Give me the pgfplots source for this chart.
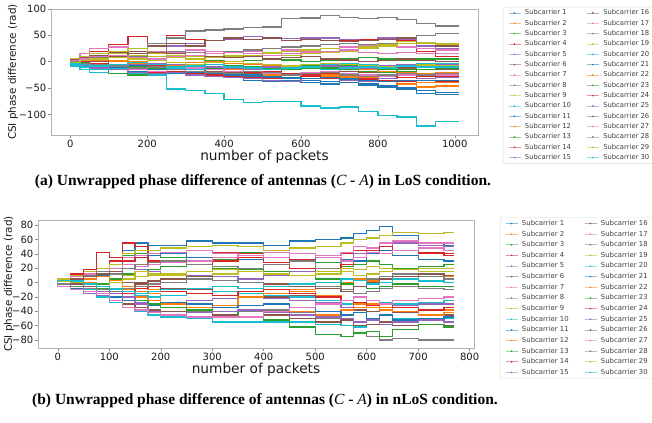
\documentclass[border=0pt]{standalone}
\usepackage{fontspec}
\setmainfont{DejaVu Sans}
\newfontfamily\capfont{Liberation Serif}
\usepackage{pgfplots}
\pgfplotsset{compat=1.18}
\definecolor{c0}{HTML}{1F77B4}
\definecolor{c1}{HTML}{FF7F0E}
\definecolor{c2}{HTML}{2CA02C}
\definecolor{c3}{HTML}{D62728}
\definecolor{c4}{HTML}{9467BD}
\definecolor{c5}{HTML}{8C564B}
\definecolor{c6}{HTML}{E377C2}
\definecolor{c7}{HTML}{7F7F7F}
\definecolor{c8}{HTML}{BCBD22}
\definecolor{c9}{HTML}{17BECF}
\pgfplotsset{
  d/.style={forget plot, const plot mark right, line width=1.3bp},
  csi/.style={
    scale only axis,
    axis line style={draw=black!30},
    tick style={draw=black!45, line width=0.5bp},
    major tick length=3bp,
    tick align=outside,
    xtick pos=left, ytick pos=left,
    ticklabel style={font=\fontsize{10bp}{12bp}\selectfont, text=black!90},
    xticklabel style={inner sep=1.5bp},
    yticklabel style={inner sep=1.5bp},
    /pgf/number format/assume math mode=true,
    xlabel style={font=\fontsize{13.7bp}{16bp}\selectfont, text=black!90, at={(axis description cs:0.5,0)}, anchor=north, yshift=-15bp, inner sep=0pt},
    ylabel style={font=\fontsize{10.4bp}{12bp}\selectfont, text=black!90, anchor=center, inner sep=0pt},
    legend cell align=left,
    legend columns=2,
    legend image code/.code={\draw[##1,line width=0.8bp,opacity=0.5] (0bp,0bp) -- (12bp,0bp); \fill[##1] (6bp,0bp) circle (0.6bp);},
  },
}
\newcommand{\sclegend}{%
\addlegendimage{c0}\addlegendentry{Subcarrier 1}
\addlegendimage{c5}\addlegendentry{Subcarrier 16}
\addlegendimage{c1}\addlegendentry{Subcarrier 2}
\addlegendimage{c6}\addlegendentry{Subcarrier 17}
\addlegendimage{c2}\addlegendentry{Subcarrier 3}
\addlegendimage{c7}\addlegendentry{Subcarrier 18}
\addlegendimage{c3}\addlegendentry{Subcarrier 4}
\addlegendimage{c8}\addlegendentry{Subcarrier 19}
\addlegendimage{c4}\addlegendentry{Subcarrier 5}
\addlegendimage{c9}\addlegendentry{Subcarrier 20}
\addlegendimage{c5}\addlegendentry{Subcarrier 6}
\addlegendimage{c0}\addlegendentry{Subcarrier 21}
\addlegendimage{c6}\addlegendentry{Subcarrier 7}
\addlegendimage{c1}\addlegendentry{Subcarrier 22}
\addlegendimage{c7}\addlegendentry{Subcarrier 8}
\addlegendimage{c2}\addlegendentry{Subcarrier 23}
\addlegendimage{c8}\addlegendentry{Subcarrier 9}
\addlegendimage{c3}\addlegendentry{Subcarrier 24}
\addlegendimage{c9}\addlegendentry{Subcarrier 10}
\addlegendimage{c4}\addlegendentry{Subcarrier 25}
\addlegendimage{c0}\addlegendentry{Subcarrier 11}
\addlegendimage{c5}\addlegendentry{Subcarrier 26}
\addlegendimage{c1}\addlegendentry{Subcarrier 12}
\addlegendimage{c6}\addlegendentry{Subcarrier 27}
\addlegendimage{c2}\addlegendentry{Subcarrier 13}
\addlegendimage{c7}\addlegendentry{Subcarrier 28}
\addlegendimage{c3}\addlegendentry{Subcarrier 14}
\addlegendimage{c8}\addlegendentry{Subcarrier 29}
\addlegendimage{c4}\addlegendentry{Subcarrier 15}
\addlegendimage{c9}\addlegendentry{Subcarrier 30}
}
\begin{document}
\begin{tikzpicture}
\path[use as bounding box] (0bp,0bp) rectangle (652bp,423bp);
% ---------------- (a) LoS ----------------
\begin{axis}[csi,
  at={(51bp,288bp)}, anchor=south west, width=427bp, height=126bp,
  xmin=-50.5, xmax=1060.5, ymin=-139, ymax=100,
  xtick={0,200,400,600,800,1000}, xticklabels={0,200,400,600,800,1000},
  ytick={-100,-50,0,50,100}, yticklabels={−100,−50,0,50,100},
  xlabel={number of packets}, ylabel={CSI phase difference (rad)},
  ylabel style={at={(axis description cs:-0.089,0.5)}},
  legend style={at={(1.0585,1.016)}, anchor=north west, draw=black!15, rounded corners=1.5bp,
    font=\fontsize{6.8bp}{8bp}\selectfont, text=black!75, inner xsep=5bp, inner ysep=2bp,
    nodes={inner sep=0.5bp, text height=5.2bp, text depth=1.4bp},
    row sep=2.73bp, column sep=3.5bp,
    /tikz/every even column/.append style={column sep=15bp}},
]
\addplot[d,c0] coordinates {(0,0)(25,-3)(50,-8)(100,-12)(150,-15)(200,-18)(250,-20)(300,-22)(350,-25)(400,-28)(450,-30)(500,-35)(550,-38)(600,-36)(650,-40)(700,-42)(750,-40)(800,-45)(850,-48)(900,-50)(950,-55)(1010,-58)};
\addplot[d,c1] coordinates {(0,0)(25,2)(50,5)(100,3)(150,0)(200,-3)(250,-5)(300,-8)(350,-10)(400,-12)(450,-15)(500,-18)(550,-20)(600,-22)(650,-25)(700,-28)(750,-30)(800,-32)(850,-35)(900,-38)(950,-40)(1010,-40)};
\addplot[d,c2] coordinates {(0,0)(25,3)(50,5)(100,8)(150,12)(200,15)(250,10)(300,8)(350,5)(400,2)(450,0)(500,2)(550,5)(600,3)(650,0)(700,2)(750,5)(800,8)(850,5)(900,3)(950,5)(1010,5)};
\addplot[d,c3] coordinates {(0,0)(25,5)(50,10)(100,20)(150,32)(200,48)(250,35)(300,50)(350,42)(400,40)(450,45)(500,48)(550,46)(600,40)(650,42)(700,45)(750,40)(800,42)(850,45)(900,40)(950,20)(1010,10)};
\addplot[d,c4] coordinates {(0,0)(25,3)(50,5)(100,10)(150,15)(200,12)(250,20)(300,30)(350,35)(400,40)(450,42)(500,48)(550,45)(600,44)(650,45)(700,45)(750,42)(800,40)(850,45)(900,42)(950,30)(1010,25)};
\addplot[d,c5] coordinates {(0,0)(25,5)(50,10)(100,15)(150,18)(200,20)(250,30)(300,35)(350,30)(400,40)(450,45)(500,42)(550,45)(600,40)(650,42)(700,40)(750,38)(800,40)(850,42)(900,45)(950,35)(1010,30)};
\addplot[d,c6] coordinates {(0,0)(25,5)(50,15)(100,25)(150,28)(200,25)(250,20)(300,18)(350,22)(400,20)(450,18)(500,20)(550,25)(600,22)(650,20)(700,25)(750,28)(800,30)(850,32)(900,28)(950,25)(1010,22)};
\addplot[d,c7] coordinates {(0,0)(25,2)(50,5)(100,8)(150,10)(200,15)(250,35)(300,45)(350,58)(400,60)(450,62)(500,65)(550,66)(600,82)(650,83)(700,87)(750,84)(800,82)(850,84)(900,80)(950,72)(1010,68)};
\addplot[d,c8] coordinates {(0,0)(25,3)(50,5)(100,10)(150,15)(200,12)(250,10)(300,8)(350,5)(400,8)(450,10)(500,12)(550,15)(600,12)(650,15)(700,18)(750,20)(800,25)(850,30)(900,38)(950,36)(1010,35)};
\addplot[d,c9] coordinates {(0,0)(25,-8)(50,-15)(100,-20)(150,-22)(200,-22)(250,-25)(300,-52)(350,-55)(400,-60)(450,-72)(500,-78)(550,-76)(600,-75)(650,-84)(700,-88)(750,-86)(800,-95)(850,-102)(900,-105)(950,-122)(1010,-114)};
\addplot[d,c0] coordinates {(0,0)(25,2)(50,-2)(100,-5)(150,-10)(200,-12)(250,-15)(300,-18)(350,-20)(400,-22)(450,-25)(500,-28)(550,-30)(600,-32)(650,-35)(700,-38)(750,-40)(800,-42)(850,-45)(900,-52)(950,-60)(1010,-62)};
\addplot[d,c1] coordinates {(0,0)(25,-2)(50,-5)(100,-8)(150,-12)(200,-10)(250,-8)(300,-12)(350,-15)(400,-18)(450,-20)(500,-22)(550,-25)(600,-22)(650,-20)(700,-25)(750,-28)(800,-30)(850,-35)(900,-42)(950,-48)(1010,-46)};
\addplot[d,c2] coordinates {(0,0)(25,-3)(50,-8)(100,-15)(150,-22)(200,-25)(250,-20)(300,-18)(350,-15)(400,-12)(450,-10)(500,-12)(550,-15)(600,-10)(650,-8)(700,-12)(750,-15)(800,-18)(850,-20)(900,-15)(950,-22)(1010,-20)};
\addplot[d,c3] coordinates {(0,0)(25,-2)(50,-5)(100,-10)(150,-12)(200,-15)(250,-20)(300,-18)(350,-22)(400,-25)(450,-28)(500,-30)(550,-32)(600,-30)(650,-28)(700,-32)(750,-35)(800,-33)(850,-35)(900,-38)(950,-36)(1010,-38)};
\addplot[d,c4] coordinates {(0,0)(25,-3)(50,-8)(100,-12)(150,-15)(200,-20)(250,-22)(300,-20)(350,-25)(400,-28)(450,-30)(500,-32)(550,-35)(600,-38)(650,-32)(700,-30)(750,-35)(800,-38)(850,-32)(900,-30)(950,-32)(1010,-30)};
\addplot[d,c5] coordinates {(0,0)(25,-1)(50,3)(100,0)(150,-5)(200,-8)(250,-10)(300,-12)(350,-15)(400,-18)(450,-20)(500,-22)(550,-18)(600,-15)(650,-12)(700,-15)(750,-18)(800,-20)(850,-15)(900,-12)(950,-15)(1010,-15)};
\addplot[d,c6] coordinates {(0,0)(25,-2)(50,-5)(100,-8)(150,-12)(200,-15)(250,-18)(300,-15)(350,-12)(400,-15)(450,-18)(500,-20)(550,-22)(600,-25)(650,-20)(700,-18)(750,-22)(800,-25)(850,-28)(900,-25)(950,-28)(1010,-25)};
\addplot[d,c7] coordinates {(0,0)(25,3)(50,8)(100,15)(150,12)(200,10)(250,15)(300,20)(350,18)(400,15)(450,20)(500,22)(550,25)(600,28)(650,30)(700,32)(750,35)(800,32)(850,35)(900,35)(950,50)(1010,54)};
\addplot[d,c8] coordinates {(0,0)(25,5)(50,10)(100,15)(150,20)(200,25)(250,15)(300,12)(350,10)(400,15)(450,12)(500,15)(550,18)(600,20)(650,22)(700,25)(750,22)(800,28)(850,32)(900,35)(950,34)(1010,33)};
\addplot[d,c9] coordinates {(0,0)(25,-5)(50,-10)(100,-15)(150,-12)(200,-10)(250,-8)(300,-12)(350,-15)(400,-10)(450,-8)(500,-5)(550,-8)(600,-12)(650,-10)(700,-5)(750,-3)(800,-5)(850,-8)(900,-5)(950,-3)(1010,-3)};
\addplot[d,c0] coordinates {(0,0)(25,-2)(50,-5)(100,-8)(150,-10)(200,-8)(250,-12)(300,-15)(350,-18)(400,-20)(450,-22)(500,-25)(550,-28)(600,-30)(650,-32)(700,-30)(750,-33)(800,-35)(850,-38)(900,-36)(950,-35)(1010,-35)};
\addplot[d,c1] coordinates {(0,0)(25,1)(50,3)(100,5)(150,2)(200,0)(250,-3)(300,-5)(350,-2)(400,0)(450,-3)(500,-5)(550,-8)(600,-10)(650,-12)(700,-15)(750,-12)(800,-15)(850,-18)(900,-20)(950,-22)(1010,-20)};
\addplot[d,c2] coordinates {(0,0)(25,2)(50,-2)(100,-5)(150,-8)(200,-10)(250,-12)(300,-10)(350,-8)(400,-5)(450,-8)(500,-10)(550,-12)(600,-15)(650,-12)(700,-10)(750,-8)(800,-12)(850,-15)(900,-18)(950,-15)(1010,-12)};
\addplot[d,c3] coordinates {(0,0)(25,2)(50,0)(100,-3)(150,-5)(200,-2)(250,-8)(300,-15)(350,-18)(400,-20)(450,-22)(500,-20)(550,-18)(600,-22)(650,-25)(700,-22)(750,-25)(800,-28)(850,-25)(900,-30)(950,-28)(1010,-28)};
\addplot[d,c4] coordinates {(0,0)(25,-2)(50,-5)(100,-10)(150,-8)(200,-5)(250,-3)(300,-5)(350,-8)(400,-10)(450,-12)(500,-15)(550,-10)(600,-8)(650,-5)(700,-8)(750,-10)(800,-12)(850,-8)(900,-5)(950,-8)(1010,-5)};
\addplot[d,c5] coordinates {(0,0)(25,3)(50,8)(100,12)(150,10)(200,15)(250,18)(300,15)(350,12)(400,10)(450,8)(500,10)(550,5)(600,8)(650,10)(700,5)(750,3)(800,0)(850,2)(900,5)(950,2)(1010,0)};
\addplot[d,c6] coordinates {(0,0)(25,2)(50,5)(100,10)(150,12)(200,8)(250,5)(300,10)(350,12)(400,15)(450,18)(500,15)(550,12)(600,15)(650,18)(700,20)(750,22)(800,18)(850,15)(900,18)(950,15)(1010,15)};
\addplot[d,c7] coordinates {(0,0)(25,1)(50,-3)(100,-5)(150,-8)(200,-12)(250,-10)(300,-15)(350,-18)(400,-20)(450,-22)(500,-18)(550,-20)(600,-25)(650,-22)(700,-20)(750,-25)(800,-28)(850,-25)(900,-22)(950,-25)(1010,-22)};
\addplot[d,c8] coordinates {(0,0)(25,-1)(50,2)(100,5)(150,8)(200,5)(250,2)(300,-2)(350,-5)(400,-2)(450,0)(500,-3)(550,-5)(600,-8)(650,-5)(700,-3)(750,-5)(800,-8)(850,-10)(900,-8)(950,-6)(1010,-8)};
\addplot[d,c9] coordinates {(0,0)(25,-3)(50,-5)(100,-8)(150,-5)(200,-2)(250,-5)(300,-10)(350,-8)(400,-5)(450,-10)(500,-12)(550,-15)(600,-12)(650,-10)(700,-15)(750,-12)(800,-10)(850,-12)(900,-8)(950,-10)(1010,-10)};
\sclegend
\end{axis}
% ---------------- (b) nLoS ----------------
\begin{axis}[csi,
  at={(38bp,75bp)}, anchor=south west, width=436bp, height=128bp,
  xmin=-38.5, xmax=808.5, ymin=-91, ymax=87,
  xtick={0,100,200,300,400,500,600,700,800}, xticklabels={0,100,200,300,400,500,600,700,800},
  ytick={-80,-60,-40,-20,0,20,40,60,80}, yticklabels={−80,−60,−40,−20,0,20,40,60,80},
  xlabel={number of packets}, ylabel={CSI phase difference (rad)},
  ylabel style={at={(axis description cs:-0.0665,0.5)}},
  legend style={at={(1.0596,1.0234)}, anchor=north west, draw=black!15, rounded corners=1.5bp,
    font=\fontsize{6.9bp}{8bp}\selectfont, text=black!75, inner xsep=5bp, inner ysep=2.5bp,
    nodes={inner sep=0.5bp, text height=5.2bp, text depth=1.4bp},
    row sep=3.04bp, column sep=3.5bp,
    /tikz/every even column/.append style={column sep=15bp}},
]
\addplot[d,c0] coordinates {(0,0)(25,5)(50,10)(75,8)(100,15)(125,20)(150,45)(175,55)(200,52)(250,52)(300,58)(350,55)(400,55)(450,52)(500,58)(550,60)(575,62)(600,68)(625,72)(650,78)(700,65)(750,55)(770,52)};
\addplot[d,c1] coordinates {(0,0)(25,3)(50,-2)(75,-5)(100,-8)(125,-15)(150,-10)(175,-12)(200,-15)(250,-30)(300,-35)(350,-32)(400,-20)(450,-15)(500,-10)(550,-5)(575,0)(600,5)(625,2)(650,8)(700,5)(750,8)(770,8)};
\addplot[d,c2] coordinates {(0,0)(25,5)(50,8)(75,12)(100,15)(125,25)(150,38)(175,40)(200,38)(250,35)(300,30)(350,32)(400,42)(450,35)(500,30)(550,28)(575,22)(600,25)(625,30)(650,25)(700,20)(750,22)(770,25)};
\addplot[d,c3] coordinates {(0,0)(25,5)(50,12)(75,15)(100,20)(125,30)(150,55)(175,50)(200,40)(250,42)(300,45)(350,42)(400,40)(450,35)(500,32)(550,38)(575,40)(600,45)(625,42)(650,40)(700,45)(750,42)(770,40)};
\addplot[d,c4] coordinates {(0,0)(25,2)(50,5)(75,8)(100,10)(125,15)(150,20)(175,18)(200,15)(250,12)(300,10)(350,8)(400,5)(450,10)(500,15)(550,20)(575,30)(600,40)(625,45)(650,50)(700,55)(750,52)(770,50)};
\addplot[d,c5] coordinates {(0,0)(25,2)(50,-2)(75,-5)(100,-10)(125,-15)(150,-5)(175,0)(200,-5)(250,-8)(300,-10)(350,-12)(400,-15)(450,-20)(500,-18)(550,-25)(575,-30)(600,-38)(625,-40)(650,-35)(700,-42)(750,-45)(770,-45)};
\addplot[d,c6] coordinates {(0,0)(25,2)(50,5)(75,12)(100,15)(125,25)(150,35)(175,38)(200,40)(250,42)(300,45)(350,40)(400,38)(450,42)(500,40)(550,38)(575,42)(600,50)(625,48)(650,55)(700,58)(750,55)(770,55)};
\addplot[d,c7] coordinates {(0,0)(25,-3)(50,-8)(75,-10)(100,-12)(125,-20)(150,-30)(175,-35)(200,-30)(250,-35)(300,-40)(350,-45)(400,-40)(450,-38)(500,-42)(550,-50)(575,-60)(600,-70)(625,-75)(650,-80)(700,-78)(750,-80)(770,-80)};
\addplot[d,c8] coordinates {(0,0)(25,5)(50,10)(75,15)(100,20)(125,25)(150,40)(175,45)(200,45)(250,48)(300,50)(350,52)(400,50)(450,45)(500,48)(550,50)(575,55)(600,60)(625,62)(650,65)(700,70)(750,68)(770,70)};
\addplot[d,c9] coordinates {(0,0)(25,-5)(50,-10)(75,-15)(100,-20)(125,-28)(150,-30)(175,-40)(200,-45)(250,-48)(300,-50)(350,-55)(400,-55)(450,-55)(500,-55)(550,-58)(575,-60)(600,-62)(625,-58)(650,-55)(700,-50)(750,-52)(770,-50)};
\addplot[d,c0] coordinates {(0,0)(25,-3)(50,0)(75,5)(100,10)(125,15)(150,30)(175,35)(200,38)(250,40)(300,35)(350,30)(400,32)(450,28)(500,30)(550,35)(575,32)(600,30)(625,40)(650,45)(700,38)(750,32)(770,30)};
\addplot[d,c1] coordinates {(0,0)(25,2)(50,5)(75,0)(100,-5)(125,-10)(150,-15)(175,-20)(200,-25)(250,-28)(300,-35)(350,-40)(400,-38)(450,-42)(500,-40)(550,-45)(575,-38)(600,-35)(625,-30)(650,-35)(700,-40)(750,-38)(770,-38)};
\addplot[d,c2] coordinates {(0,0)(25,-2)(50,-5)(75,-8)(100,-2)(125,5)(150,12)(175,15)(200,18)(250,22)(300,25)(350,20)(400,18)(450,15)(500,10)(550,5)(575,-2)(600,-5)(625,-8)(650,-5)(700,-2)(750,-5)(770,-5)};
\addplot[d,c3] coordinates {(0,0)(25,3)(50,8)(75,18)(100,42)(125,35)(150,30)(175,35)(200,30)(250,28)(300,25)(350,30)(400,35)(450,28)(500,20)(550,12)(575,25)(600,35)(625,45)(650,50)(700,45)(750,40)(770,38)};
\addplot[d,c4] coordinates {(0,0)(25,-5)(50,-10)(75,-15)(100,-18)(125,-20)(150,-25)(175,-28)(200,-30)(250,-28)(300,-25)(350,-22)(400,-20)(450,-22)(500,-25)(550,-28)(575,-35)(600,-30)(625,-25)(650,-28)(700,-32)(750,-30)(770,-30)};
\addplot[d,c5] coordinates {(0,0)(25,-2)(50,-5)(75,-10)(100,-15)(125,-25)(150,-30)(175,-35)(200,-38)(250,-40)(300,-42)(350,-45)(400,-48)(450,-45)(500,-50)(550,-55)(575,-52)(600,-60)(625,-58)(650,-55)(700,-60)(750,-58)(770,-60)};
\addplot[d,c6] coordinates {(0,0)(25,3)(50,8)(75,10)(100,15)(125,20)(150,25)(175,22)(200,25)(250,28)(300,30)(350,35)(400,38)(450,35)(500,40)(550,35)(575,30)(600,35)(625,42)(650,40)(700,45)(750,48)(770,45)};
\addplot[d,c7] coordinates {(0,0)(25,2)(50,5)(75,10)(100,15)(125,12)(150,20)(175,25)(200,28)(250,30)(300,25)(350,22)(400,20)(450,25)(500,30)(550,20)(575,15)(600,10)(625,5)(650,8)(700,12)(750,8)(770,5)};
\addplot[d,c8] coordinates {(0,0)(25,-5)(50,-10)(75,-12)(100,-15)(125,-10)(150,10)(175,15)(200,12)(250,10)(300,8)(350,12)(400,15)(450,12)(500,10)(550,15)(575,20)(600,18)(625,22)(650,20)(700,18)(750,20)(770,20)};
\addplot[d,c9] coordinates {(0,0)(25,-3)(50,-8)(75,-10)(100,-5)(125,-10)(150,-15)(175,-18)(200,-20)(250,-18)(300,-15)(350,-12)(400,-15)(450,-18)(500,-20)(550,-25)(575,-30)(600,-28)(625,-25)(650,-28)(700,-30)(750,-28)(770,-25)};
\addplot[d,c0] coordinates {(0,0)(25,-5)(50,-8)(75,-12)(100,-15)(125,-20)(150,-25)(175,-30)(200,-32)(250,-28)(300,-30)(350,-35)(400,-32)(450,-30)(500,-35)(550,-40)(575,-45)(600,-42)(625,-50)(650,-45)(700,-52)(750,-50)(770,-48)};
\addplot[d,c1] coordinates {(0,0)(25,-2)(50,2)(75,5)(100,8)(125,3)(150,-5)(175,-8)(200,-10)(250,-12)(300,-15)(350,-18)(400,-20)(450,-15)(500,-12)(550,-18)(575,-25)(600,-30)(625,-35)(650,-38)(700,-40)(750,-45)(770,-42)};
\addplot[d,c2] coordinates {(0,0)(25,2)(50,0)(75,-3)(100,-8)(125,-12)(150,-20)(175,-25)(200,-30)(250,-35)(300,-38)(350,-40)(400,-48)(450,-52)(500,-62)(550,-72)(575,-75)(600,-70)(625,-68)(650,-75)(700,-65)(750,-58)(770,-62)};
\addplot[d,c3] coordinates {(0,0)(25,-3)(50,-5)(75,-2)(100,-5)(125,-12)(150,-15)(175,-8)(200,-5)(250,-12)(300,-15)(350,-18)(400,-12)(450,-10)(500,-15)(550,-20)(575,-25)(600,-28)(625,-32)(650,-30)(700,-35)(750,-38)(770,-35)};
\addplot[d,c4] coordinates {(0,0)(25,-3)(50,-5)(75,-8)(100,-12)(125,-15)(150,-20)(175,-30)(200,-40)(250,-45)(300,-42)(350,-40)(400,-38)(450,-42)(500,-45)(550,-48)(575,-50)(600,-55)(625,-52)(650,-58)(700,-55)(750,-52)(770,-55)};
\addplot[d,c5] coordinates {(0,0)(25,3)(50,5)(75,8)(100,12)(125,15)(150,0)(175,-2)(200,2)(250,5)(300,8)(350,3)(400,0)(450,-2)(500,-5)(550,-8)(575,-12)(600,-5)(625,0)(650,5)(700,8)(750,12)(770,10)};
\addplot[d,c6] coordinates {(0,0)(25,-5)(50,-10)(75,-12)(100,-15)(125,-25)(150,-35)(175,-38)(200,-42)(250,-45)(300,-48)(350,-48)(400,-48)(450,-40)(500,-35)(550,-30)(575,-25)(600,-20)(625,-25)(650,-30)(700,-25)(750,-22)(770,-20)};
\addplot[d,c7] coordinates {(0,0)(25,-2)(50,-5)(75,-8)(100,-10)(125,-12)(150,-8)(175,-5)(200,-2)(250,0)(300,5)(350,3)(400,0)(450,-5)(500,-2)(550,-5)(575,-10)(600,-15)(625,-12)(650,-8)(700,-5)(750,-8)(770,-10)};
\addplot[d,c8] coordinates {(0,0)(25,2)(50,0)(75,-3)(100,-5)(125,0)(150,5)(175,8)(200,10)(250,12)(300,15)(350,18)(400,15)(450,12)(500,10)(550,12)(575,15)(600,10)(625,12)(650,15)(700,18)(750,15)(770,15)};
\addplot[d,c9] coordinates {(0,0)(25,3)(50,2)(75,-2)(100,-5)(125,-8)(150,-12)(175,-15)(200,-12)(250,-10)(300,-8)(350,-5)(400,-8)(450,-5)(500,-2)(550,0)(575,5)(600,3)(625,-2)(650,0)(700,5)(750,2)(770,0)};
\sclegend
\end{axis}
\node[font=\capfont\bfseries\fontsize{15.5bp}{18bp}\selectfont, inner sep=0pt] at (263bp,241bp) {(a) Unwrapped phase difference of antennas ({\mdseries\itshape C} - {\mdseries\itshape A}) in LoS condition.};
\node[font=\capfont\bfseries\fontsize{15.5bp}{18bp}\selectfont, inner sep=0pt] at (265bp,22bp) {(b) Unwrapped phase difference of antennas ({\mdseries\itshape C} - {\mdseries\itshape A}) in nLoS condition.};
\end{tikzpicture}
\end{document}
